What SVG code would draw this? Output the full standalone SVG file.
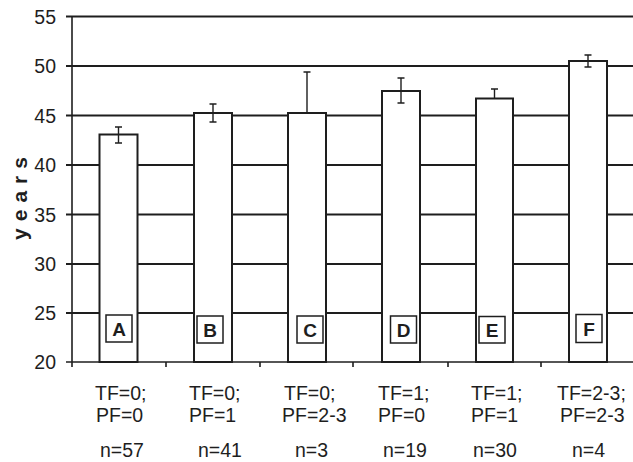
<svg xmlns="http://www.w3.org/2000/svg" width="633" height="462" viewBox="0 0 633 462">
<style>
.grid{stroke:#1e1e1e;stroke-width:2;fill:none}
.axis{stroke:#1e1e1e;stroke-width:1.6;fill:none}
.bar{fill:#fff;stroke:#1e1e1e;stroke-width:2}
.err{stroke:#1e1e1e;stroke-width:1.4;fill:none}
.box{fill:#fff;stroke:#1e1e1e;stroke-width:1.5}
.t{font-family:"Liberation Sans",Arial,sans-serif;font-size:19.5px;fill:#1e1e1e}
.yt{text-anchor:end}
.letter{font-weight:bold;text-anchor:middle;font-size:19px}
.ylab{font-weight:bold;font-size:21px;text-anchor:middle;letter-spacing:7px}
</style>
<rect width="633" height="462" fill="#fff"/>
<g id="gridlines">
<line class="grid" x1="66" y1="16.5" x2="633" y2="16.5"/>
<line class="grid" x1="66" y1="66" x2="633" y2="66"/>
<line class="grid" x1="66" y1="115.5" x2="633" y2="115.5"/>
<line class="grid" x1="66" y1="165" x2="633" y2="165"/>
<line class="grid" x1="66" y1="214.5" x2="633" y2="214.5"/>
<line class="grid" x1="66" y1="264" x2="633" y2="264"/>
<line class="grid" x1="66" y1="313" x2="633" y2="313"/>
</g>
<g id="axes">
<line class="axis" x1="72" y1="16" x2="72" y2="362"/>
<line class="axis" x1="66" y1="362" x2="633" y2="362"/>
<path class="axis" d="M72 362V367M166 362V367M260 362V367M353 362V367M448 362V367M541 362V367"/>
</g>
<g id="ylabels" class="t yt">
<text x="56" y="24">55</text>
<text x="56" y="73">50</text>
<text x="56" y="122.5">45</text>
<text x="56" y="172">40</text>
<text x="56" y="221.5">35</text>
<text x="56" y="271">30</text>
<text x="56" y="320">25</text>
<text x="56" y="369">20</text>
</g>
<text class="t ylab" transform="translate(27,195) rotate(-90)">years</text>
<g id="barA">
<rect class="bar" x="99.5" y="134.5" width="38" height="227.5"/>
<path class="err" d="M118.5 127V143M115 127H122M115 143H122"/>
<rect class="box" x="106" y="315" width="26" height="27"/>
<text class="t letter" x="119" y="335.5">A</text>
</g>
<g id="barB">
<rect class="bar" x="194" y="113" width="38" height="249"/>
<path class="err" d="M213 104V122M209.5 104H216.5M209.5 122H216.5"/>
<rect class="box" x="197" y="316" width="26" height="27"/>
<text class="t letter" x="210" y="336.5">B</text>
</g>
<g id="barC">
<rect class="bar" x="288" y="113" width="38" height="249"/>
<path class="err" d="M307 72V113M303.5 72H310.5"/>
<rect class="box" x="297" y="316" width="26" height="27"/>
<text class="t letter" x="310" y="336.5">C</text>
</g>
<g id="barD">
<rect class="bar" x="382" y="91" width="38" height="271"/>
<path class="err" d="M401 78V103M397.5 78H404.5M397.5 103H404.5"/>
<rect class="box" x="390.5" y="316" width="26" height="27"/>
<text class="t letter" x="403.5" y="336.5">D</text>
</g>
<g id="barE">
<rect class="bar" x="476" y="98.5" width="37" height="263.5"/>
<path class="err" d="M494.5 89V98.5M491 89H498"/>
<rect class="box" x="479" y="316.5" width="26" height="26.5"/>
<text class="t letter" x="492" y="337">E</text>
</g>
<g id="barF">
<rect class="bar" x="569" y="61" width="38" height="301"/>
<path class="err" d="M588 55V67M584.5 55H591.5M584.5 67H591.5"/>
<rect class="box" x="576" y="314.5" width="26" height="28"/>
<text class="t letter" x="589" y="335.5">F</text>
</g>
<g id="catlabels" class="t">
<text x="95" y="399.5">TF=0;</text><text x="96" y="421.5">PF=0</text><text x="100" y="457">n=57</text>
<text x="189" y="399.5">TF=0;</text><text x="189" y="421.5">PF=1</text><text x="198" y="457">n=41</text>
<text x="284" y="399.5">TF=0;</text><text x="282" y="421.5">PF=2-3</text><text x="295" y="457">n=3</text>
<text x="378" y="399.5">TF=1;</text><text x="378" y="421.5">PF=0</text><text x="383" y="457">n=19</text>
<text x="471" y="399.5">TF=1;</text><text x="471" y="421.5">PF=1</text><text x="473" y="457">n=30</text>
<text x="557" y="399.5">TF=2-3;</text><text x="560" y="421.5">PF=2-3</text><text x="572" y="457">n=4</text>
</g>
</svg>
